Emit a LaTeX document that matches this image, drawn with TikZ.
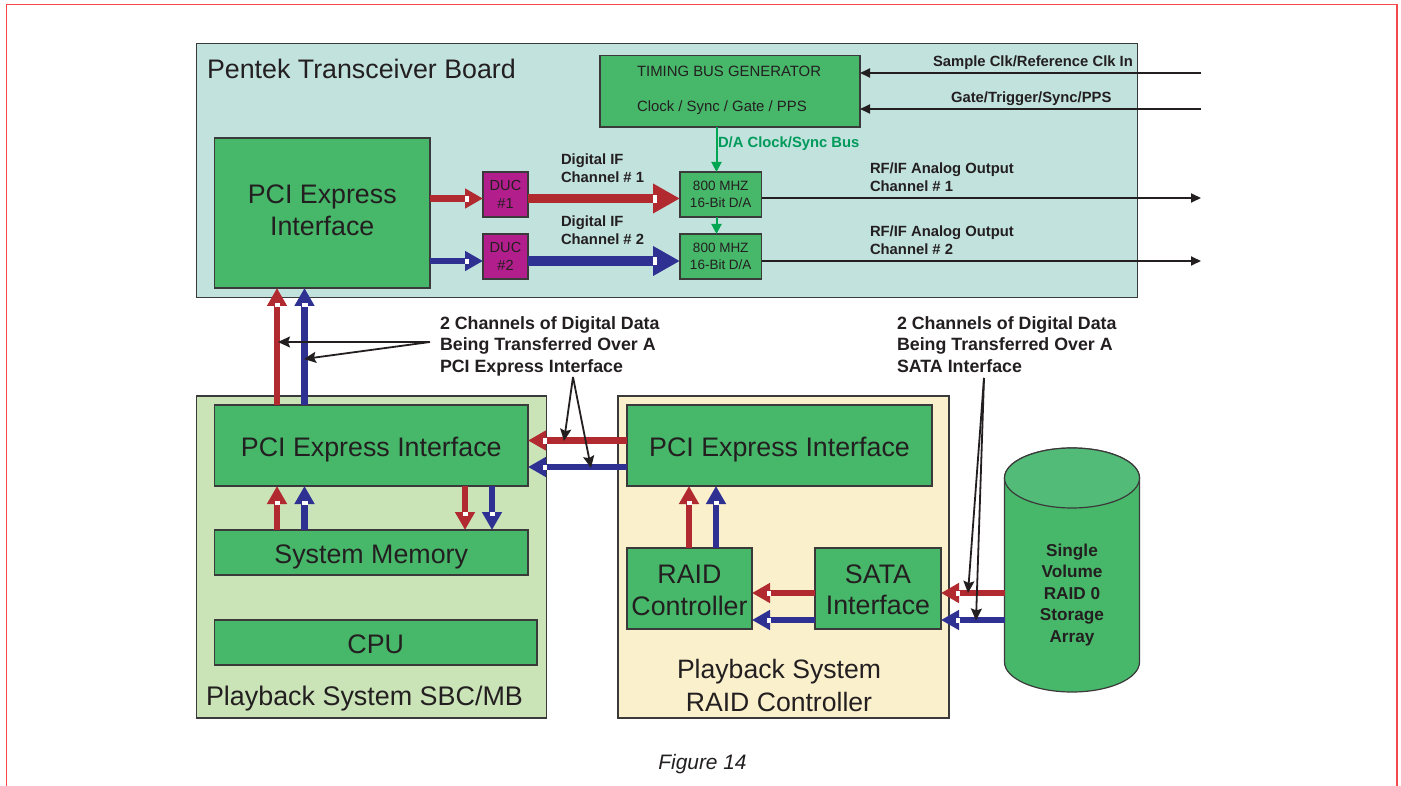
\documentclass[tikz,border=0pt]{standalone}
\usepackage{fontspec}
\setmainfont{Liberation Sans}
\usetikzlibrary{arrows.meta}
\definecolor{boardc}{HTML}{C2E2DE}
\definecolor{sbcc}{HTML}{CAE4B8}
\definecolor{raidc}{HTML}{FAF0CC}
\definecolor{greenc}{HTML}{47B76A}
\definecolor{topc}{HTML}{52BB78}
\definecolor{ducc}{HTML}{B21E8C}
\definecolor{redc}{HTML}{B02A30}
\definecolor{bluec}{HTML}{2E3192}
\definecolor{inkc}{HTML}{231F20}
\definecolor{edgec}{HTML}{3A3A3A}
\definecolor{frame}{HTML}{F5484A}
\definecolor{clockc}{HTML}{00A651}
\definecolor{clockt}{HTML}{009A5A}
\tikzset{
  x=1pt,y=-1pt,
  every node/.style={text=inkc,inner sep=0pt,outer sep=0pt},
  panel/.style={draw=edgec,line width=1.2pt,fill=#1,minimum width=0pt},
  blockbox/.style={draw=edgec,line width=1.2pt,fill=greenc,align=center},
  big/.style={font=\fontsize{26.8}{31.5}\selectfont,align=center},
  oneline/.style={text depth=0pt,text height=21.5pt},
  note/.style={font=\fontsize{17.8}{21.6}\selectfont\bfseries,align=left,anchor=west},
  small/.style={font=\fontsize{14.8}{18}\selectfont\bfseries,align=left,anchor=west},
  thinbus/.style={line width=6.5pt,#1,-{Triangle[length=18pt,width=19pt,#1]},
    postaction={draw,#1,line width=0.1pt,-{Rectangle[white,length=3pt,width=4.8pt,sep=15pt]}}},
  fatbus/.style={line width=9.5pt,#1,-{Triangle[length=27pt,width=28pt,#1]},
    postaction={draw,#1,line width=0.1pt,-{Rectangle[white,length=3.5pt,width=7pt,sep=23.5pt]}}},
  signal/.style={draw=inkc,line width=1.8pt,-{Triangle[length=10pt,width=9pt,inkc]}},
  pointer/.style={draw=inkc,line width=1.8pt,-{Stealth[length=12pt,width=11pt,inset=2pt,inkc]}},
  clockbus/.style={draw=clockc,line width=2pt,-{Triangle[length=10pt,width=10pt,clockc]}},
}
\begin{document}
\begin{tikzpicture}
\useasboundingbox (0,0) rectangle (1401,786);
\fill[white] (0,0) rectangle (1401,786);
\draw[frame,line width=1.2pt] (6.5,786) -- (6.5,4.5) -- (1397,4.5) -- (1397,786);
% panels
\node[panel=boardc,minimum width=941,minimum height=254,anchor=north west] (board) at (196.5,43.5) {};
\node[panel=sbcc,minimum width=350,minimum height=322,anchor=north west] (sbc) at (196.5,396) {};
\node[panel=raidc,minimum width=331,minimum height=322,anchor=north west] (raid) at (618,396) {};
\node[anchor=west,font=\fontsize{26.8}{32}\selectfont] (boardt) at (207,69) {Pentek Transceiver Board};
\node[anchor=west,font=\fontsize{26.9}{32}\selectfont] (sbct) at (206,699) {Playback System SBC/MB};
\node[big,font=\fontsize{26.6}{33}\selectfont] (raidt) at (779,685.5) {Playback System\\RAID Controller};
% blocks
\node[blockbox,minimum width=260,minimum height=71.5,anchor=north west] (timing) at (600,55.5) {};
\node[anchor=west,font=\fontsize{14.9}{18}\selectfont] (timingt) at (637,71) {TIMING BUS GENERATOR};
\node[anchor=west,font=\fontsize{14.9}{18}\selectfont] (timingb) at (637,108) {Clock / Sync / Gate / PPS};
\node[blockbox,big,text depth=0pt,text height=46pt,font=\fontsize{26.8}{32}\selectfont,minimum width=215.5,minimum height=150,anchor=north west] (pcia) at (214.5,138) {PCI Express\\Interface};
\tikzset{duc/.style={draw=edgec,line width=1.2pt,fill=ducc,minimum width=45,minimum height=45,anchor=north west,align=center,font=\fontsize{14.6}{18.5}\selectfont},
 dac/.style={blockbox,minimum width=81.5,minimum height=45,anchor=north west,font=\fontsize{13.5}{17}\selectfont}}
\node[duc] (duca) at (483,172) {DUC\\\#1};
\node[duc] (ducb) at (483,234) {DUC\\\#2};
\node[dac] (daa) at (680,172) {800 MHZ\\16-Bit D/A};
\node[dac] (dab) at (680,234) {800 MHZ\\16-Bit D/A};
\node[blockbox,big,text depth=0pt,text height=22pt,minimum width=313.5,minimum height=81,anchor=north west] (pcib) at (214.5,405) {PCI Express Interface};
\node[blockbox,big,oneline,minimum width=313.5,minimum height=45,anchor=north west] (mem) at (214.5,530) {System Memory};
\node[blockbox,big,oneline,minimum width=322.5,minimum height=45,anchor=north west] (cpu) at (214.5,620) {CPU};
\node[blockbox,big,text depth=0pt,text height=22pt,minimum width=305,minimum height=81,anchor=north west] (pcic) at (627,405) {PCI Express Interface};
\node[blockbox,big,text depth=0pt,text height=53pt,minimum width=125,minimum height=81,anchor=north west] (rctl) at (627,548) {RAID\\Controller};
\node[blockbox,big,text depth=0pt,text height=52pt,minimum width=126,minimum height=81,anchor=north west] (sata) at (815,548) {SATA\\Interface};
% cylinder
\path[draw=edgec,line width=1.2pt,fill=greenc] (1004.5,478) -- (1004.5,662) arc[start angle=180,end angle=360,x radius=67.5,y radius=-30] -- (1139.5,478) arc[start angle=0,end angle=180,x radius=67.5,y radius=-30];
\path[draw=edgec,line width=1.2pt,fill=topc] (1072,478) ellipse[x radius=67.5,y radius=30];
\node[minimum width=135,minimum height=190,align=center,font=\fontsize{17.2}{21.5}\selectfont\bfseries] (disk) at (1072,595) {Single\\Volume\\RAID 0\\Storage\\Array};
% labels
\node[small] (lsample) at (933,63) {Sample Clk/Reference Clk In};
\node[small] (lgate) at (951,99) {Gate/Trigger/Sync/PPS};
\node[small,text=clockt] (lclock) at (718,144) {D/A Clock/Sync Bus};
\node[small] (lifa) at (561,168) {Digital IF\\Channel \# 1};
\node[small] (lifb) at (561,230.5) {Digital IF\\Channel \# 2};
\node[small] (lrfa) at (870,177) {RF/IF Analog Output\\Channel \# 1};
\node[small] (lrfb) at (870,240) {RF/IF Analog Output\\Channel \# 2};
\node[note] (noa) at (440,346) {2 Channels of Digital Data\\Being Transferred Over A\\PCI Express Interface};
\node[note] (nob) at (897,344.5) {2 Channels of Digital Data\\Being Transferred Over A\\SATA Interface};
\node[font=\fontsize{20.9}{24}\selectfont\itshape] (fig) at (702.5,764) {Figure 14};
% free ends
\coordinate (insample) at (1201,73);
\coordinate (ingate) at (1201,109);
\coordinate (outa) at (1201,198);
\coordinate (outb) at (1201,261);
\coordinate (pa) at (430,342);
\coordinate (pb) at (573,377);
\coordinate (pc) at (984,378);
\coordinate (ta) at (278,342);
\coordinate (tb) at (304,359);
\coordinate (tc) at (564,441);
\coordinate (td) at (591,468);
\coordinate (te) at (968,593);
\coordinate (tf) at (976,620.5);
% signals
\draw[signal] (insample) -- (timing.east |- insample);
\draw[signal] (ingate) -- (timing.east |- ingate);
\draw[signal] (daa.east |- outa) -- (outa);
\draw[signal] (dab.east |- outb) -- (outb);
\draw[clockbus] (timing.south -| 716.5,0) -- (daa.north -| 716.5,0);
\draw[clockbus] (daa.south -| 716.5,0) -- (dab.north -| 716.5,0);
% board buses
\draw[thinbus=redc] (pcia.east |- 0,198.5) -- (duca.west |- 0,198.5);
\draw[thinbus=bluec] (pcia.east |- 0,261) -- (ducb.west |- 0,261);
\draw[fatbus=redc] (duca.east |- 0,198.5) -- (daa.west |- 0,198.5);
\draw[fatbus=bluec] (ducb.east |- 0,261) -- (dab.west |- 0,261);
% vertical buses
\draw[thinbus=redc] (pcib.north -| 277,0) -- (pcia.south -| 277,0);
\draw[thinbus=bluec] (pcib.north -| 304.5,0) -- (pcia.south -| 304.5,0);
\draw[thinbus=redc] (mem.north -| 277,0) -- (pcib.south -| 277,0);
\draw[thinbus=bluec] (mem.north -| 304.5,0) -- (pcib.south -| 304.5,0);
\draw[thinbus=redc] (pcib.south -| 465,0) -- (mem.north -| 465,0);
\draw[thinbus=bluec] (pcib.south -| 492,0) -- (mem.north -| 492,0);
\draw[thinbus=redc] (rctl.north -| 689,0) -- (pcic.south -| 689,0);
\draw[thinbus=bluec] (rctl.north -| 716,0) -- (pcic.south -| 716,0);
% horizontal buses
\draw[thinbus=redc] (pcic.west |- 0,440.5) -- (pcib.east |- 0,440.5);
\draw[thinbus=bluec] (pcic.west |- 0,467) -- (pcib.east |- 0,467);
\draw[thinbus=redc] (sata.west |- 0,593) -- (rctl.east |- 0,593);
\draw[thinbus=bluec] (sata.west |- 0,620) -- (rctl.east |- 0,620);
\draw[thinbus=redc] (disk.west |- 0,593) -- (sata.east |- 0,593);
\draw[thinbus=bluec] (disk.west |- 0,620) -- (sata.east |- 0,620);
% pointers
\draw[pointer] (pa) -- (ta);
\draw[pointer] (pa) -- (tb);
\draw[pointer] (pb) -- (tc);
\draw[pointer] (pb) -- (td);
\draw[pointer] (pc) -- (te);
\draw[pointer] (pc) -- (tf);
\end{tikzpicture}
\end{document}
